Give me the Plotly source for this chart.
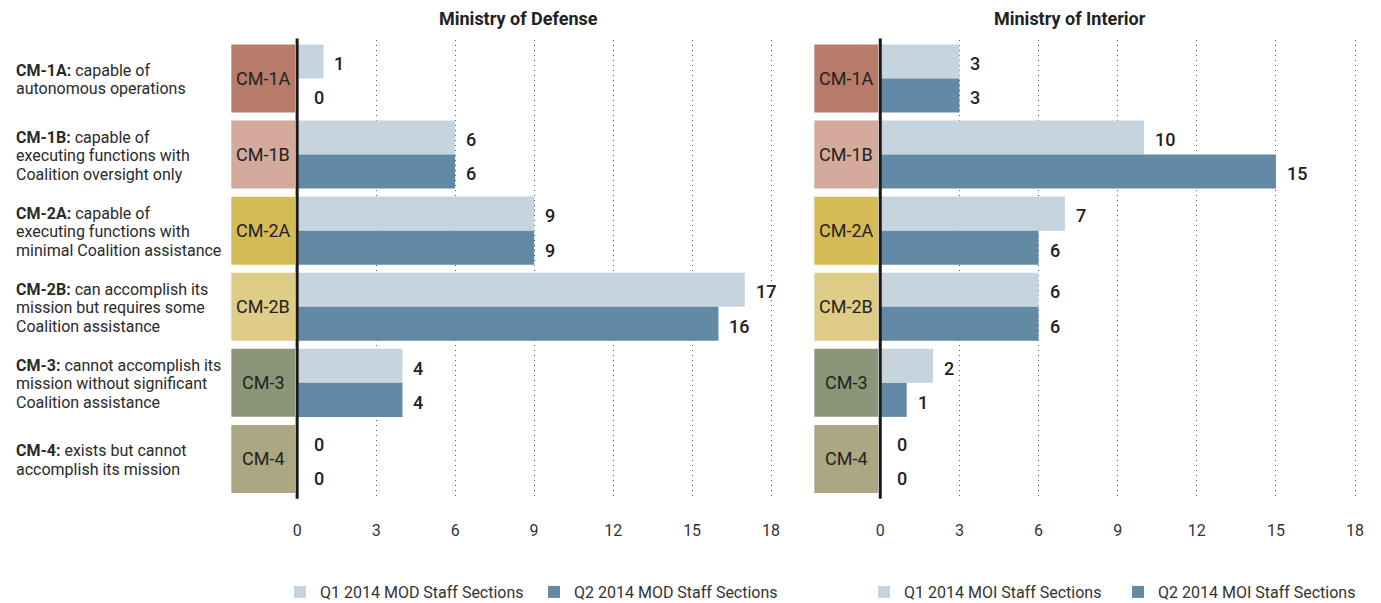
import plotly.graph_objects as go

categories = ["CM-1A", "CM-1B", "CM-2A", "CM-2B", "CM-3", "CM-4"]
desc_heads = ["CM-1A:", "CM-1B:", "CM-2A:", "CM-2B:", "CM-3:", "CM-4:"]
desc_lines = [
    ["capable of", "autonomous operations"],
    ["capable of", "executing functions with", "Coalition oversight only"],
    ["capable of", "executing functions with", "minimal Coalition assistance"],
    ["can accomplish its", "mission but requires some", "Coalition assistance"],
    ["cannot accomplish its", "mission without significant", "Coalition assistance"],
    ["exists but cannot", "accomplish its mission"],
]
mod_q1 = [1, 6, 9, 17, 4, 0]
mod_q2 = [0, 6, 9, 16, 4, 0]
moi_q1 = [3, 10, 7, 6, 2, 0]
moi_q2 = [3, 15, 6, 6, 1, 0]
tick_values = [0, 3, 6, 9, 12, 15, 18]
panel_titles = ["Ministry of Defense", "Ministry of Interior"]
series_names = [
    ["Q1 2014 MOD Staff Sections", "Q2 2014 MOD Staff Sections"],
    ["Q1 2014 MOI Staff Sections", "Q2 2014 MOI Staff Sections"],
]
box_colors = ["#b77b69", "#d3aa9b", "#d4bb55", "#dfcc86", "#8b9679", "#aca683"]
q1_color = "#c6d4df"
q2_color = "#628aa4"

FONT = "Roboto, 'Liberation Sans', sans-serif"
PAGE_OFF = 8            # browser default body margin
W, H = 1381 - PAGE_OFF, 603 - PAGE_OFF


def fx(px):
    return (px - PAGE_OFF) / W


def fy(py):
    return 1 - (py - PAGE_OFF) / H


fig = go.Figure()

panels = [("x", "y", mod_q1, mod_q2, "legend"), ("x2", "y2", moi_q1, moi_q2, "legend2")]
for p, (xa, ya, q1, q2, lg) in enumerate(panels):
    fig.add_trace(go.Bar(y=categories, x=q1, orientation="h", name=series_names[p][0],
                         marker=dict(color=q1_color, line=dict(width=0)),
                         xaxis=xa, yaxis=ya, legend=lg, hoverinfo="x+name"))
    fig.add_trace(go.Bar(y=categories, x=q2, orientation="h", name=series_names[p][1],
                         marker=dict(color=q2_color, line=dict(width=0)),
                         xaxis=xa, yaxis=ya, legend=lg, hoverinfo="x+name"))

annotations = []
shapes = []
for p, (xa, ya, q1, q2, lg) in enumerate(panels):
    for i, cat in enumerate(categories):
        shapes.append(dict(type="rect", xref=xa, yref=ya, x0=-2.5, x1=-0.08,
                           y0=i - 0.447, y1=i + 0.447, fillcolor=box_colors[i],
                           line=dict(width=0), layer="below"))
        annotations.append(dict(xref=xa, yref=ya, x=-1.29, y=i, text=cat,
                                showarrow=False,
                                font=dict(size=18, color="#222222", family=FONT)))
        for off, vals in ((-0.225, q1), (0.225, q2)):
            v = vals[i]
            annotations.append(dict(xref=xa, yref=ya, x=v, y=i + off + 0.03, text=str(v),
                                    showarrow=False, xanchor="left",
                                    xshift=9 if v > 0 else 15,
                                    font=dict(size=18, color="#222222", family=FONT,
                                              weight=500)))
    shapes.append(dict(type="line", xref=xa, yref=ya + " domain", x0=0, x1=0,
                       y0=-0.004, y1=1.004, line=dict(color="#1a1a1a", width=3),
                       layer="above"))

# left descriptions, one annotation per line
LINE_H = 18.5
for i, (head, lines) in enumerate(zip(desc_heads, desc_lines)):
    n = len(lines)
    for k, line in enumerate(lines):
        txt = ("<b>" + head + "</b> " + line) if k == 0 else line
        offset = (k - (n - 1) / 2) * LINE_H
        annotations.append(dict(xref="paper", yref="y", x=fx(14), y=i, text=txt,
                                showarrow=False, xanchor="left", yanchor="middle",
                                align="left", yshift=-offset - 1,
                                font=dict(size=16, color="#2a2a2a", family=FONT)))

# panel titles
for cx, t in zip([518, 1070], panel_titles):
    annotations.append(dict(xref="paper", yref="paper", x=fx(cx), y=fy(18),
                            text="<b>" + t + "</b>", showarrow=False,
                            xanchor="center", yanchor="middle",
                            font=dict(size=18, color="#222222", family=FONT)))

ydom = [fy(497), fy(40.4)]
xaxis_common = dict(range=[-2.55, 18.3], tickvals=tick_values, showgrid=True,
                    gridcolor="#555555", griddash="1px,4px", gridwidth=1,
                    zeroline=False, showline=False, ticks="",
                    tickfont=dict(size=16, color="#333333", family=FONT),
                    ticklabelstandoff=22, fixedrange=True)
yaxis_common = dict(type="category", categoryorder="array", categoryarray=categories,
                    range=[5.5, -0.5], domain=ydom, showticklabels=False,
                    showgrid=False, zeroline=False, showline=False, ticks="",
                    fixedrange=True)

legend_common = dict(orientation="h", yanchor="middle", y=fy(592), xanchor="left",
                     font=dict(size=16, color="#333333", family=FONT),
                     bgcolor="rgba(0,0,0,0)", entrywidth=209, entrywidthmode="pixels",
                     traceorder="normal")

fig.update_layout(
    width=W, height=H,
    margin=dict(l=0, r=0, t=0, b=0, autoexpand=False),
    paper_bgcolor="white", plot_bgcolor="white",
    barmode="group", bargap=0.105, bargroupgap=0,
    font=dict(family=FONT, color="#333333"),
    xaxis=dict(domain=[fx(230), fx(779)], anchor="y", **xaxis_common),
    xaxis2=dict(domain=[fx(813), fx(1363)], anchor="y2", **xaxis_common),
    yaxis=dict(anchor="x", **yaxis_common),
    yaxis2=dict(anchor="x2", **yaxis_common),
    legend=dict(x=fx(280), **legend_common),
    legend2=dict(x=fx(864), **legend_common),
    annotations=annotations,
    shapes=shapes,
    showlegend=True,
)

fig.write_html("out.html")
